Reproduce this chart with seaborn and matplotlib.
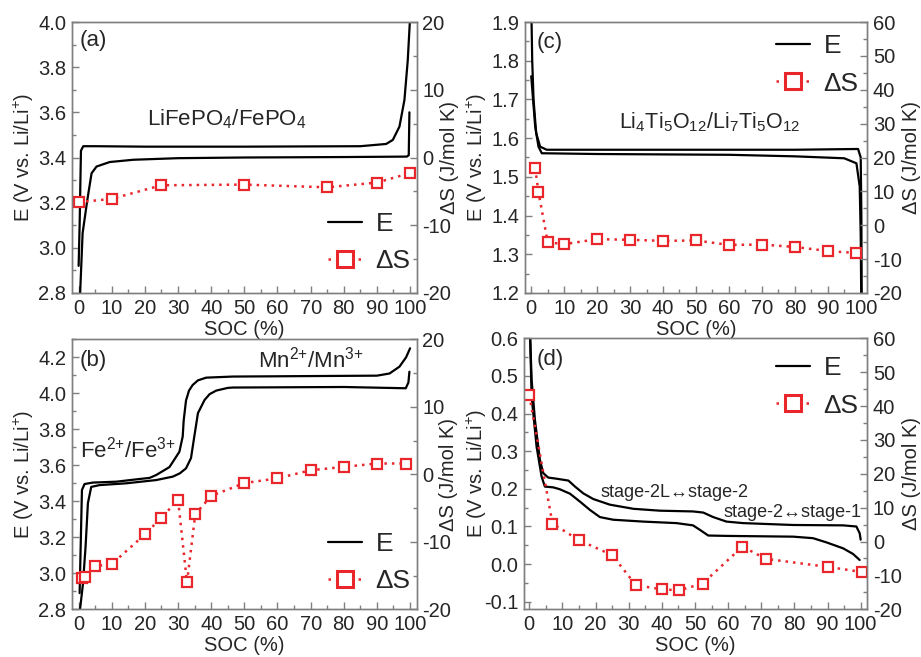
import matplotlib
matplotlib.use("Agg")
import matplotlib.pyplot as plt
import seaborn as sns
import numpy as np
import pandas as pd
from matplotlib.lines import Line2D
from matplotlib.ticker import MultipleLocator, FormatStrFormatter

# ---------------- data ----------------
# (a) LiFePO4
a_chg_soc = [0.0, 0.3, 0.7, 1.4, 5, 20, 50, 85, 92.8, 94.8, 96.8, 98.3, 99.3, 100.0]
a_chg_E   = [2.92, 3.10, 3.43, 3.45, 3.45, 3.448, 3.448, 3.45, 3.46, 3.478, 3.537, 3.655, 3.83, 4.02]
a_dis_soc = [99.8, 99.6, 99.0, 80, 50, 30, 16.5, 9.4, 5.4, 3.9, 2.6, 1.2, 0.4]
a_dis_E   = [3.60, 3.41, 3.404, 3.402, 3.40, 3.397, 3.39, 3.38, 3.36, 3.33, 3.21, 3.065, 2.78]
a_ds_soc  = [0, 10, 25, 50, 75, 90, 100]
a_ds      = [-6.6, -6.1, -4.1, -4.0, -4.4, -3.7, -2.3]

# (b) LiFe(Mn)PO4
b_chg_soc = [0.3, 1.0, 1.8, 4.3, 11.4, 18.4, 21.4, 23.4, 27.4, 30.4, 31.4, 31.7, 32.4, 33.3, 34.4,
             36.0, 38.5, 46.5, 90, 93.8, 96.8, 98.8, 100]
b_chg_E   = [2.89, 3.463, 3.496, 3.504, 3.509, 3.524, 3.53, 3.546, 3.59, 3.675, 3.76, 3.85, 3.96, 4.015,
             4.046, 4.072, 4.087, 4.093, 4.098, 4.11, 4.148, 4.20, 4.25]
b_dis_soc = [99.8, 99.5, 98.7, 80, 46.5, 45, 41.5, 39.5, 38, 36, 34.9, 33.9, 32.4, 30.5, 28.4, 23.4,
             14.4, 6.3, 3.8, 2.8, 2.1, 1.3, 0.3]
b_dis_E   = [4.12, 4.06, 4.028, 4.035, 4.032, 4.03, 4.015, 3.995, 3.963, 3.89, 3.76, 3.64, 3.583, 3.555,
             3.537, 3.518, 3.50, 3.49, 3.48, 3.39, 3.15, 2.94, 2.78]
b_ds_soc  = [1, 2, 5, 10, 20, 25, 30, 32.7, 35.2, 40, 50, 60, 70, 80, 90, 98.8]
b_ds      = [-15.3, -15.2, -13.6, -13.3, -8.9, -6.4, -3.8, -16.0, -5.9, -3.2, -1.3, -0.6, 0.6, 1.1, 1.6, 1.6]

# (c) Li4Ti5O12
c_chg_soc = [0.0, 0.3, 0.7, 1.5, 2.7, 4.7, 20, 50, 80, 99.2, 100.0, 100.2, 100.3]
c_chg_E   = [1.95, 1.80, 1.70, 1.613, 1.578, 1.570, 1.570, 1.570, 1.570, 1.572, 1.55, 1.40, 1.15]
c_dis_soc = [0.0, 1.2, 2.2, 3.2, 20, 60, 80, 95, 98.7, 99.7, 100.0, 100.2]
c_dis_E   = [1.76, 1.63, 1.578, 1.561, 1.559, 1.557, 1.553, 1.548, 1.535, 1.475, 1.35, 1.15]
c_ds_soc  = [1.2, 2.2, 5, 10, 20, 30, 40, 50, 60, 70, 80, 90, 98.7]
c_ds      = [16.9, 9.8, -5.0, -5.6, -4.1, -4.3, -4.6, -4.5, -5.8, -5.7, -6.4, -7.6, -8.2]

# (d) graphite
d_up_soc  = [0.2, 0.7, 1.7, 3.2, 4.2, 5.7, 8.2, 11.8, 13.8, 16.3, 19.3, 24.3, 31.4, 39.4, 49.4,
             52.5, 55.5, 59.5, 64.5, 79.6, 94.7, 98.7, 99.7, 100]
d_up_E    = [0.62, 0.489, 0.383, 0.277, 0.242, 0.230, 0.227, 0.222, 0.206, 0.188, 0.173, 0.158, 0.147,
             0.142, 0.140, 0.137, 0.125, 0.113, 0.109, 0.104, 0.103, 0.100, 0.082, 0.065]
d_lo_soc  = [0.2, 0.7, 2.2, 3.7, 4.7, 7.2, 9.2, 12.3, 15.3, 18.3, 21.3, 25.3, 34.4, 44.4, 49.4,
             51.5, 54, 59.5, 79.6, 85.6, 89.6, 94.7, 97.7, 99.7]
d_lo_E    = [0.62, 0.445, 0.312, 0.233, 0.206, 0.204, 0.199, 0.187, 0.166, 0.144, 0.125, 0.118,
             0.113, 0.109, 0.103, 0.091, 0.076, 0.075, 0.073, 0.069, 0.058, 0.042, 0.027, 0.011]
d_ds_soc  = [0, 7, 15, 25, 32.2, 40, 45.2, 52.3, 64.3, 71.4, 90.2, 100.5]
d_ds      = [43.2, 5.3, 0.4, -4.0, -12.9, -14.1, -14.4, -12.4, -1.5, -5.1, -7.5, -9.0]

xtick_vals = [0, 10, 20, 30, 40, 50, 60, 70, 80, 90, 100]

# ---------------- style ----------------
sns.set_style("ticks")
plt.rcParams['font.family'] = ['Liberation Sans', 'DejaVu Sans']
plt.rcParams['mathtext.fontset'] = 'custom'
plt.rcParams['mathtext.rm'] = 'Liberation Sans'
plt.rcParams['mathtext.it'] = 'Liberation Sans'
plt.rcParams['mathtext.default'] = 'regular'
plt.rcParams['axes.unicode_minus'] = False

GRAY = '#7f7f7f'
RED = '#e8262b'
FS = 14.5

fig = plt.figure(figsize=(9.21, 6.57), dpi=100)
W, H = 921, 657


def mkax(l, t, r, b):
    return fig.add_axes([l / W, (H - b) / H, (r - l) / W, (b - t) / H])


panels = [
    dict(box=(72, 22, 416.7, 293), ylim=(2.8, 4.0), y2lim=(-20, 20), ymaj=0.2, ymin=0.1,
         curves=[(a_chg_soc, a_chg_E), (a_dis_soc, a_dis_E)], ds=(a_ds_soc, a_ds),
         xlim=(-2, 102), tag='(a)', tagpos=(0.023, 0.93), lx=-0.1044, rx=1.068,
         leg=(0.743, 0.186)),
    dict(box=(525.3, 22, 867.3, 293), ylim=(1.2, 1.9), y2lim=(-20, 60), ymaj=0.1, ymin=0.05,
         curves=[(c_chg_soc, c_chg_E), (c_dis_soc, c_dis_E)], ds=(c_ds_soc, c_ds),
         xlim=(-1.8, 102), tag='(c)', tagpos=(0.034, 0.926), lx=-0.106, rx=1.1015,
         leg=(0.733, 0.841)),
    dict(box=(72, 339.3, 416.7, 609.3), ylim=(2.8, 4.3), y2lim=(-20, 20), ymaj=0.2, ymin=0.1,
         curves=[(b_chg_soc, b_chg_E), (b_dis_soc, b_dis_E)], ds=(b_ds_soc, b_ds),
         xlim=(-2, 102), tag='(b)', tagpos=(0.023, 0.923), lx=-0.1044, rx=1.0647,
         leg=(0.743, 0.173)),
    dict(box=(524, 338.3, 867.3, 609.3), ylim=(-0.12, 0.6), y2lim=(-20, 60), ymaj=0.1, ymin=0.05,
         curves=[(d_up_soc, d_up_E), (d_lo_soc, d_lo_E)], ds=(d_ds_soc, d_ds),
         xlim=(-1.6, 102), tag='(d)', tagpos=(0.038, 0.92), lx=-0.102, rx=1.101,
         leg=(0.734, 0.820)),
]

for p in panels:
    ax = mkax(*p['box'])
    ax2 = ax.twinx()
    for sx, sy in p['curves']:
        df = pd.DataFrame({'SOC': sx, 'E': sy})
        sns.lineplot(data=df, x='SOC', y='E', ax=ax, color='black', lw=1.6,
                     sort=False, estimator=None)
    dsx, dsy = p['ds']
    dfs = pd.DataFrame({'SOC': dsx, 'dS': dsy})
    sns.lineplot(data=dfs, x='SOC', y='dS', ax=ax2, color=RED, lw=1.8, ls=(0, (1, 2)),
                 marker='s', markersize=7.5, markerfacecolor='white', markeredgecolor=RED,
                 markeredgewidth=1.6, sort=False, estimator=None)
    ax.set_xlim(*p['xlim'])
    ax.set_ylim(*p['ylim'])
    ax2.set_ylim(*p['y2lim'])
    ax.set_xticks(xtick_vals)
    ax.xaxis.set_minor_locator(MultipleLocator(5))
    ax.yaxis.set_major_locator(MultipleLocator(p['ymaj']))
    ax.yaxis.set_minor_locator(MultipleLocator(p['ymin']))
    ax.yaxis.set_major_formatter(FormatStrFormatter('%.1f'))
    ax2.yaxis.set_major_locator(MultipleLocator(10))
    ax2.yaxis.set_minor_locator(MultipleLocator(5))
    ax.set_xlabel('SOC (%)', fontsize=FS, labelpad=1.5)
    ax.set_ylabel('E (V vs. Li/Li$^{+}$)', fontsize=FS)
    ax2.set_ylabel('ΔS (J/mol K)', fontsize=FS)
    ax.yaxis.set_label_coords(p['lx'], 0.5)
    ax2.yaxis.set_label_coords(p['rx'], 0.5)
    for a in (ax, ax2):
        for s in a.spines.values():
            s.set_color(GRAY)
            s.set_linewidth(1.0)
        a.tick_params(which='both', direction='in', color=GRAY, labelsize=FS, pad=4)
        a.tick_params(which='major', length=5, width=1)
        a.tick_params(which='minor', length=3, width=1)
    ax.tick_params(axis='y', which='both', right=False)
    ax.tick_params(axis='x', which='both', top=False)
    ax2.tick_params(axis='x', which='both', top=False, bottom=False)
    ax.text(p['tagpos'][0], p['tagpos'][1], p['tag'], transform=ax.transAxes,
            fontsize=16, va='center', ha='left')
    handles = [Line2D([], [], color='black', lw=1.6),
               Line2D([], [], color=RED, lw=1.8, ls=(0, (1, 2)), marker='s', markersize=11,
                      markerfacecolor='white', markeredgecolor=RED, markeredgewidth=2.2)]
    ax2.legend(handles, ['E', 'ΔS'], loc='center left', bbox_to_anchor=p['leg'],
               frameon=False, fontsize=19, handlelength=1.3, handletextpad=0.5,
               borderpad=0, borderaxespad=0, labelspacing=0.5)
    p['ax'] = ax

axa, axc, axb, axd = [p['ax'] for p in panels]
axa.text(44.7, 3.57, 'LiFePO$_4$/FePO$_4$', fontsize=16, ha='center', va='center')
axc.text(54.2, 1.64, 'Li$_4$Ti$_5$O$_{12}$/Li$_7$Ti$_5$O$_{12}$', fontsize=15.5,
         ha='center', va='center')
axb.text(0.3, 3.685, 'Fe$^{2{+}}$/Fe$^{3{+}}$', fontsize=16, ha='left', va='center')
axb.text(70.2, 4.185, 'Mn$^{2{+}}$/Mn$^{3{+}}$', fontsize=16, ha='center', va='center')
axd.text(43.9, 0.189, 'stage-2L↔stage-2', fontsize=13, ha='center', va='center')
axd.text(79.5, 0.136, 'stage-2↔stage-1', fontsize=13, ha='center', va='center')

fig.savefig('out.png', dpi=100)
